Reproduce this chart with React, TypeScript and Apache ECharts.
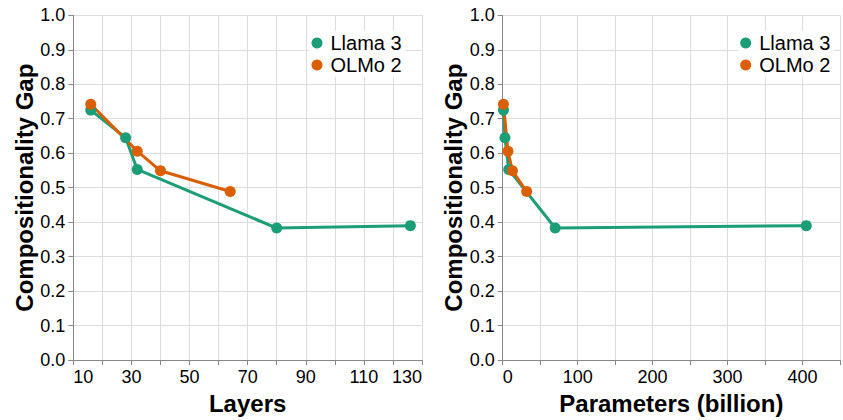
import React, { useEffect, useRef } from "react";
import * as echarts from "echarts";

const layersLlama = [16, 28, 32, 80, 126];
const layersOlmo = [16, 32, 40, 64];
const paramsLlama = [1, 3, 8, 70, 405];
const paramsOlmo = [1, 7, 13, 32];
const gapLlama = [0.725, 0.645, 0.553, 0.383, 0.39];
const gapOlmo = [0.742, 0.606, 0.549, 0.489];
const seriesNames = ["Llama 3", "OLMo 2"];
const xTitles = ["Layers", "Parameters (billion)"];
const yTitle = "Compositionality Gap";

const GREEN = "#1b9e77";
const ORANGE = "#d95f02";
const FONT = "'Liberation Sans', Arial, sans-serif";

function zip(xs: number[], ys: number[]) {
  return xs.map((x, i) => [x, ys[i]]);
}

export default function App() {
  const ref = useRef<HTMLDivElement>(null);
  useEffect(() => {
    if (!ref.current) return;
    const chart = echarts.init(ref.current, null, { renderer: "svg" });
    const axisLine = { show: true, lineStyle: { color: "#888", width: 1 } };
    const axisTick = { show: true, length: 5, lineStyle: { color: "#888" } };
    const splitLine = { show: true, lineStyle: { color: "#ddd", width: 1 } };
    const labelStyle = { color: "#000", fontSize: 18, fontFamily: FONT };
    const nameStyle = { color: "#000", fontSize: 24, fontWeight: "bold" as const, fontFamily: FONT };

    const mkX = (gi: number, min: number, max: number, interval: number, show: (v: number) => boolean) => ({
      type: "value",
      gridIndex: gi,
      min,
      max,
      interval,
      name: xTitles[gi],
      nameLocation: "middle",
      nameGap: 30,
      nameTextStyle: nameStyle,
      axisLine,
      axisTick,
      splitLine,
      axisLabel: {
        ...labelStyle,
        margin: 8,
        alignMinLabel: "left",
        alignMaxLabel: "right",
        showMinLabel: true,
        formatter: (v: number) => (show(v) ? String(v) : ""),
      },
    });
    const mkY = (gi: number) => ({
      type: "value",
      gridIndex: gi,
      min: 0,
      max: 1,
      interval: 0.1,
      name: yTitle,
      nameLocation: "middle",
      nameGap: 37,
      nameTextStyle: nameStyle,
      axisLine,
      axisTick,
      splitLine,
      axisLabel: { ...labelStyle, margin: 8, formatter: (v: number) => v.toFixed(1) },
    });
    const mkSeries = (name: string, gi: number, data: number[][], color: string) => ({
      type: "line",
      name,
      xAxisIndex: gi,
      yAxisIndex: gi,
      data,
      symbol: "circle",
      symbolSize: 11,
      showSymbol: true,
      lineStyle: { color, width: 3 },
      itemStyle: { color },
      emphasis: { disabled: true },
    });
    const mkLegend = (left: number) => ({
      orient: "vertical",
      left,
      top: 31,
      padding: [2, 4, 2, 2],
      backgroundColor: "#fff",
      itemWidth: 17,
      itemHeight: 11,
      itemGap: 2,
      icon: "circle",
      data: seriesNames,
      textStyle: { color: "#000", fontSize: 20, lineHeight: 20, fontFamily: FONT },
    });

    chart.setOption({
      animation: false,
      textStyle: { fontFamily: FONT },
      grid: [
        { left: 73.3, top: 15.3, width: 348.7, height: 348, containLabel: false },
        { left: 502.7, top: 15.3, width: 348.7, height: 348, containLabel: false },
      ],
      legend: [mkLegend(309.5), mkLegend(738.2)],
      xAxis: [
        mkX(0, 10, 130, 10, (v) => (v - 10) % 20 === 0),
        mkX(1, 0, 450, 50, (v) => v % 100 === 0 && v <= 400),
      ],
      yAxis: [mkY(0), mkY(1)],
      series: [
        mkSeries(seriesNames[0], 0, zip(layersLlama, gapLlama), GREEN),
        mkSeries(seriesNames[1], 0, zip(layersOlmo, gapOlmo), ORANGE),
        mkSeries(seriesNames[0], 1, zip(paramsLlama, gapLlama), GREEN),
        mkSeries(seriesNames[1], 1, zip(paramsOlmo, gapOlmo), ORANGE),
      ],
    });
    return () => chart.dispose();
  }, []);
  return (
    <div
      ref={ref}
      style={{ position: "absolute", left: 0, top: 0, width: 843, height: 420, overflow: "hidden", background: "#fff" }}
    />
  );
}
